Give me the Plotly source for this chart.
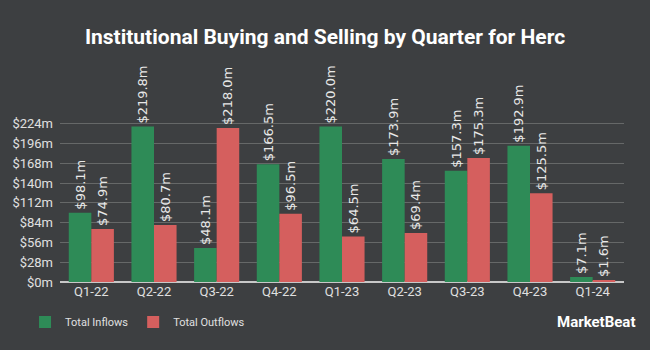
import plotly.graph_objects as go

quarters = ["Q1-22", "Q2-22", "Q3-22", "Q4-22", "Q1-23", "Q2-23", "Q3-23", "Q4-23", "Q1-24"]
inflows = [98.1, 219.8, 48.1, 166.5, 220.0, 173.9, 157.3, 192.9, 7.1]
outflows = [74.9, 80.7, 218.0, 96.5, 64.5, 69.4, 175.3, 125.5, 1.6]
tick_vals = [0, 28, 56, 84, 112, 140, 168, 196, 224]
tick_text = ["$%dm" % v for v in tick_vals]

BG = "#3d3f41"
GREEN = "#2e8b57"
RED = "#d55f5e"

fig = go.Figure()
fig.add_trace(go.Bar(
    x=quarters, y=inflows, name="Total Inflows",
    marker=dict(color=GREEN, line=dict(width=0)),
    text=["$%.1fm" % v for v in inflows], textposition="outside",
    textangle=-90, constraintext="none", cliponaxis=False,
    textfont=dict(color="#e8e8e8", size=13, family="DejaVu Sans"),
))
fig.add_trace(go.Bar(
    x=quarters, y=outflows, name="Total Outflows",
    marker=dict(color=RED, line=dict(width=0)),
    text=["$%.1fm" % v for v in outflows], textposition="outside",
    textangle=-90, constraintext="none", cliponaxis=False,
    textfont=dict(color="#e8e8e8", size=13, family="DejaVu Sans"),
))

fig.update_layout(
    width=650, height=350,
    paper_bgcolor=BG, plot_bgcolor=BG,
    margin=dict(l=58, r=26, t=77, b=68),
    barmode="group", bargap=0.28, bargroupgap=0,
    title=dict(text="<b>Institutional Buying and Selling by Quarter for Herc</b>",
               x=0.5, xanchor="center", y=0.895, yanchor="middle",
               font=dict(family="Roboto", size=21, color="white")),
    font=dict(family="Roboto", color="#e0e0e0"),
    showlegend=True,
    legend=dict(orientation="h", x=-0.062, xanchor="left", y=-0.195, yanchor="middle",
                font=dict(size=11, color="#e0e0e0"), bgcolor="rgba(0,0,0,0)",
                itemwidth=30),
    yaxis=dict(range=[0, 290], tickvals=tick_vals, ticktext=tick_text,
               showgrid=True, gridcolor="#666868", gridwidth=1,
               zeroline=True, zerolinecolor="#c8c8c8", zerolinewidth=2,
               tickfont=dict(size=13, color="#e0e0e0"), ticks="", ticklabelstandoff=6,
               fixedrange=True),
    xaxis=dict(showgrid=False, tickfont=dict(size=13, color="#e0e0e0"), ticks="",
               showline=False),
)

fig.add_annotation(text="<b>MarketBeat</b>", x=1.023, xref="paper", y=-0.195, yref="paper",
                   xanchor="right", yanchor="middle", showarrow=False,
                   font=dict(family="Roboto", size=15, color="white"))

fig.write_html("out.html")
